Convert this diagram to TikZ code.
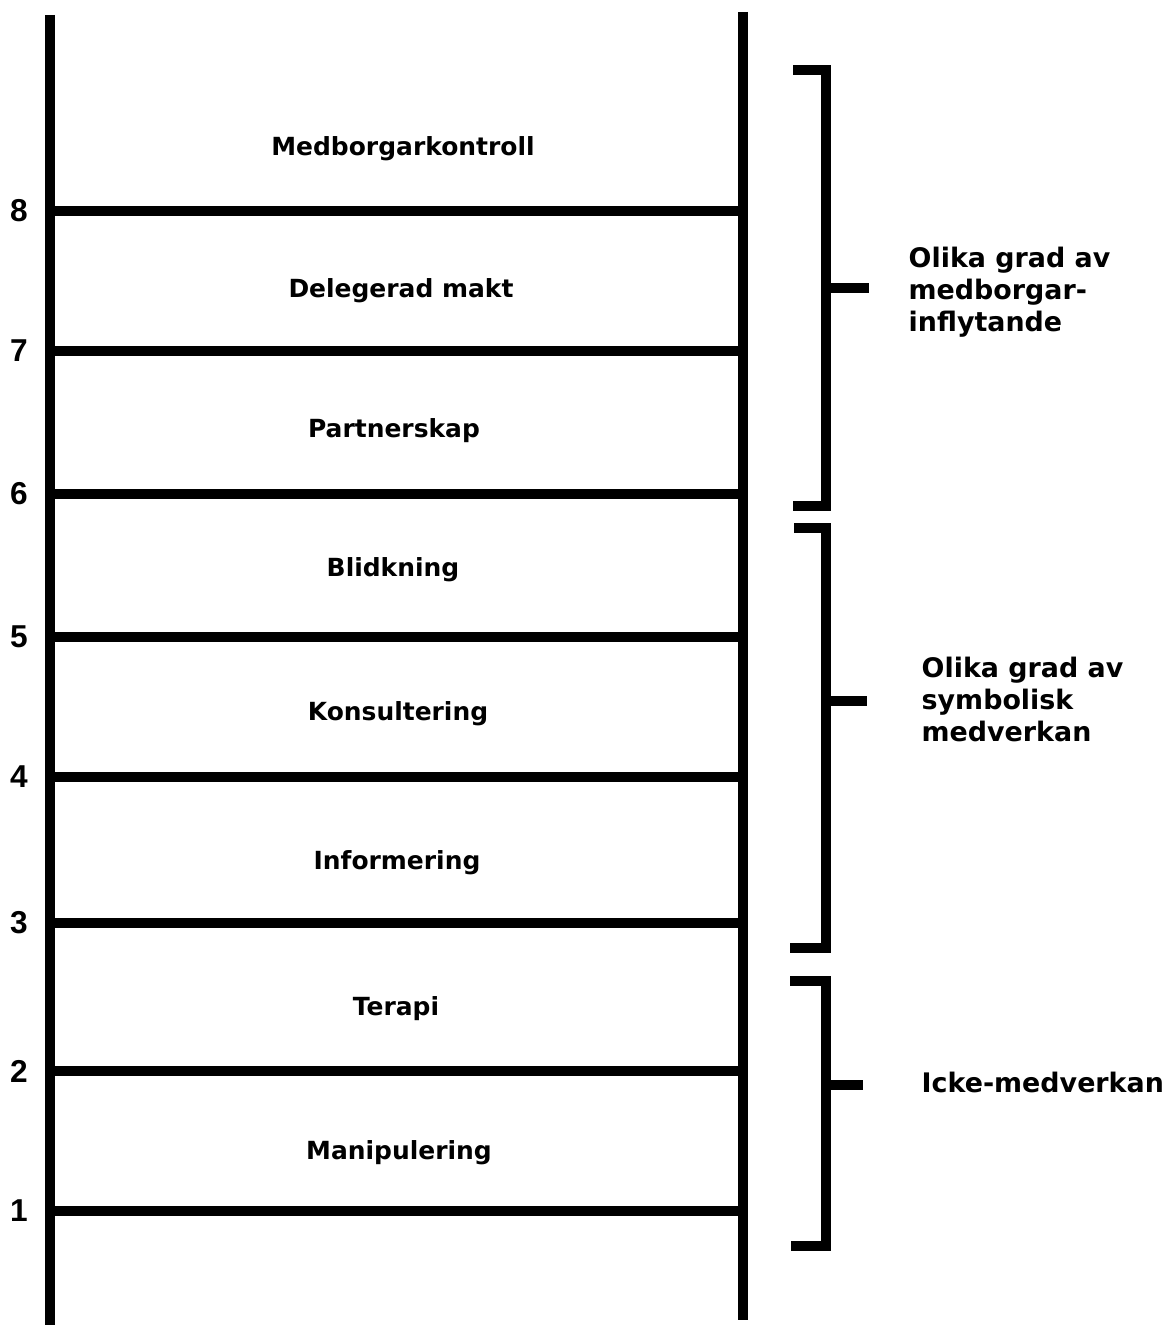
\documentclass[tikz,border=0pt]{standalone}
\usepackage{fontspec}
\setmainfont{DejaVu Sans}
\newfontfamily\numfont{Liberation Sans}
\usepackage{tikz}
\tikzset{rail/.style={line width=2.6pt},
         rung/.style={line width=2.7pt},
         brkt/.style={line width=2.7pt, line join=miter},
         num/.style={font=\numfont\bfseries\fontsize{9pt}{10pt}\selectfont, inner sep=0pt},
         steptext/.style={font=\bfseries\fontsize{7.1pt}{9pt}\selectfont, inner sep=0pt},
         sidetext/.style={font=\bfseries\fontsize{7.65pt}{9.1pt}\selectfont, inner sep=0pt, anchor=west, align=left}}

\begin{document}
\begin{tikzpicture}
                \useasboundingbox (0,0) rectangle (11.68,-13.25);

                % the two rails
                \draw[rail] (0.50,-0.15) -- (0.50,-13.25);
                \draw[rail] (7.43,-0.12) -- (7.43,-13.20);

                % rungs and their numbers
                \foreach \n/\y in {8/2.11, 7/3.51, 6/4.94, 5/6.37, 4/7.77, 3/9.23, 2/10.71, 1/12.11} {
                    \draw[rung] (0.50,-\y) -- (7.43,-\y);
                    \node[num] (num\n) at (0.19,-\y) {\n};
                }

                \node[steptext] (medborgar) at (4.03,-1.49) {Medborgarkontroll};
                \node[steptext] (delegerad) at (4.01,-2.91) {Delegerad makt};
                \node[steptext] (partner) at (3.94,-4.31) {Partnerskap};
                \node[steptext] (blidkning) at (3.93,-5.70) {Blidkning};
                \node[steptext] (konsult) at (3.98,-7.14) {Konsultering};
                \node[steptext] (inform) at (3.97,-8.63) {Informering};
                \node[steptext] (terapi) at (3.96,-10.09) {Terapi};
                \node[steptext] (manip) at (3.99,-11.53) {Manipulering};

                % brackets
                \draw[brkt] (7.93,-0.70) -- (8.26,-0.70) -- (8.26,-5.06) -- (7.93,-5.06);
                \draw[brkt] (8.26,-2.88) -- (8.69,-2.88);
                \draw[brkt] (7.94,-5.28) -- (8.26,-5.28) -- (8.26,-9.48) -- (7.90,-9.48);
                \draw[brkt] (8.26,-7.01) -- (8.67,-7.01);
                \draw[brkt] (7.90,-9.81) -- (8.26,-9.81) -- (8.26,-12.46) -- (7.91,-12.46);
                \draw[brkt] (8.26,-10.85) -- (8.63,-10.85);

                \node[sidetext] (inflytande) at (9.08,-2.92) {Olika grad av\\medborgar-\\inflytande};
                \node[sidetext] (symbolisk) at (9.21,-6.99) {Olika grad av\\symbolisk\\medverkan};
                \node[sidetext] (icke) at (9.21,-10.82) {Icke-medverkan};

            \end{tikzpicture}
\end{document}
